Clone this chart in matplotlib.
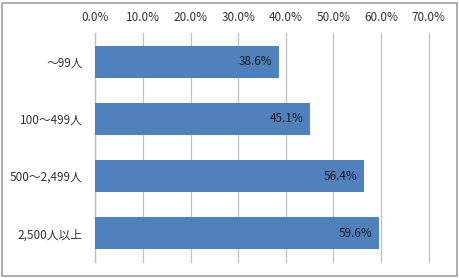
import matplotlib.pyplot as plt
from matplotlib.patches import Rectangle

plt.rcParams['font.family'] = ['Noto Sans CJK JP', 'DejaVu Sans']

# Data
categories = ['～99人', '100～499人', '500～2,499人', '2,500人以上']
values     = [38.6, 45.1, 56.4, 59.6]
xticks     = [0, 10, 20, 30, 40, 50, 60, 70]

W, H = 460, 278
fig = plt.figure(figsize=(W/100, H/100), dpi=100)
ax = fig.add_axes([95.3/W, 1 - 261.7/H, (428.7-95.3)/W, (261.7-33.3)/H])

y = range(len(categories))
ax.barh(y, values, height=0.555, color='#4F81BD', zorder=3)
for i, v in enumerate(values):
    ax.annotate('%.1f%%' % v, (v, i), xytext=(-5, 0), textcoords='offset points',
                ha='right', va='center', fontsize=8.5, color='#1a1a1a', zorder=4)

ax.set_xlim(0, 70)
ax.set_ylim(len(categories) - 0.5, -0.5)
ax.set_xticks(xticks)
ax.set_xticklabels(['%.1f%%' % t for t in xticks])
ax.set_yticks(list(y))
ax.set_yticklabels(categories)
ax.xaxis.tick_top()
ax.tick_params(axis='both', length=0, labelsize=8.5, colors='#333333')
ax.tick_params(axis='x', pad=7)
ax.tick_params(axis='y', pad=9)
ax.grid(axis='x', color='#BFBFBF', linewidth=0.9, zorder=0)
for gl in ax.get_xgridlines():
    gl.set_clip_on(False)
for s in ['top', 'right', 'bottom']:
    ax.spines[s].set_visible(False)
ax.spines['left'].set_color('#BFBFBF')
ax.spines['left'].set_linewidth(0.9)

fig.patches.append(Rectangle((2/W, 2/H), 1 - 5/W, 1 - 5/H, transform=fig.transFigure,
                             fill=False, edgecolor='#A0A0A0', linewidth=1.2))

fig.savefig('out.png', dpi=100)
